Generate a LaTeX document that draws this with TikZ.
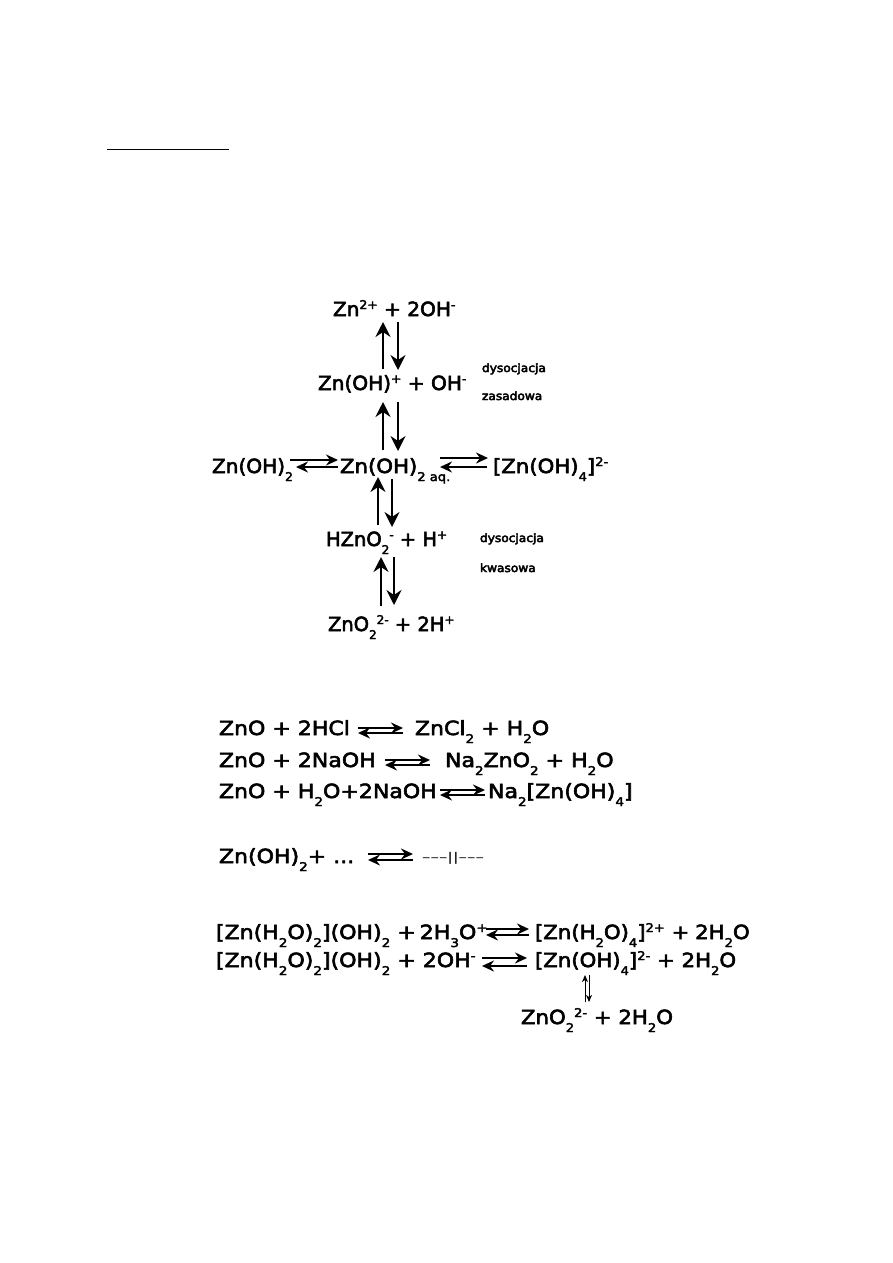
\documentclass[tikz,border=0pt]{standalone}
\usepackage{fontspec}
\setmainfont{DejaVu Sans}
\newfontfamily\chemplain{DejaVu Sans}[FakeBold=3]
\newfontfamily\chemsome{DejaVu Sans}[FakeBold=3,FakeStretch=1.03]
\newfontfamily\chemmore{DejaVu Sans}[FakeBold=3,FakeStretch=1.09]
\newfontfamily\chemwide{DejaVu Sans}[FakeBold=3,FakeStretch=1.13]
\newfontfamily\notefont{DejaVu Sans}[FakeBold=4,FakeStretch=1.06]
\newfontfamily\thinfont{DejaVu Sans}[FakeStretch=1.4]
\usetikzlibrary{arrows.meta}
\newcommand{\Dn}[1]{\raisebox{-8pt}{\fontsize{12}{12}\selectfont #1}}
\newcommand{\Up}[1]{\raisebox{7pt}{\fontsize{12}{12}\selectfont #1}}
\tikzset{
  x=1pt,y=-1pt,
  chem/.style={inner sep=0pt,outer sep=0pt,anchor=base west,font=\chemplain\fontsize{19.5}{24}\selectfont},
  chemB/.style={chem,font=\chemsome\fontsize{19.5}{24}\selectfont},
  chemC/.style={chem,font=\chemmore\fontsize{19.5}{24}\selectfont},
  chemD/.style={chem,font=\chemwide\fontsize{19.5}{24}\selectfont},
  remark/.style={inner sep=0pt,outer sep=0pt,anchor=base west,font=\notefont\fontsize{11.5}{13}\selectfont},
  eqbig/.style={line width=2.3pt,-{Stealth[length=15pt,width=15pt,inset=5pt]}},
  eqmid/.style={line width=2.2pt,-{Stealth[length=12pt,width=11pt,inset=4pt]}},
  eqtiny/.style={line width=1pt,-{Stealth[length=7pt,width=6pt,inset=2pt]}}
}
\begin{document}
\begin{tikzpicture}
\useasboundingbox (0,0) rectangle (893,1263);
\fill[white] (0,0) rectangle (893,1263);
\draw[line width=1pt] (107,149) -- (229,149);

% Dissociation scheme of zinc hydroxide
\node[chemB] (top) at (333,316) {Zn\Up{2+} + 2OH\Up{-}};
\node[chemB] (basic) at (318,390) {Zn(OH)\Up{+} + OH\Up{-}};
\node[chemB] (solid) at (212,473) {Zn(OH)\Dn{2}};
\node[chemC] (aq) at (340,473) {Zn(OH)\Dn{2 aq.}};
\node[chemC] (complex) at (493,473) {[Zn(OH)\Dn{4}]\Up{2-}};
\node[chem] (acid) at (326,546) {HZnO\Dn{2}\Up{-} + H\Up{+}};
\node[chem] (bottom) at (328,631) {ZnO\Dn{2}\Up{2-} + 2H\Up{+}};
\node[remark] (r1) at (482,372) {dysocjacja};
\node[remark] (r2) at (482,400) {zasadowa};
\node[remark] (r3) at (480,542) {dysocjacja};
\node[remark] (r4) at (480,572) {kwasowa};

\draw[eqbig] ([shift={(50,53)}]top.base west) -- ([shift={(50,6)}]top.base west);
\draw[eqbig] ([shift={(65,6)}]top.base west) -- ([shift={(65,54)}]top.base west);
\draw[eqbig] ([shift={(65,60)}]basic.base west) -- ([shift={(65,12)}]basic.base west);
\draw[eqbig] ([shift={(80,12)}]basic.base west) -- ([shift={(80,61)}]basic.base west);
\draw[eqbig] ([shift={(38,52)}]aq.base west) -- ([shift={(38,4)}]aq.base west);
\draw[eqbig] ([shift={(52,6)}]aq.base west) -- ([shift={(52,54)}]aq.base west);
\draw[eqbig] ([shift={(55,60)}]acid.base west) -- ([shift={(55,11)}]acid.base west);
\draw[eqbig] ([shift={(68,11)}]acid.base west) -- ([shift={(68,59)}]acid.base west);
\draw[eqmid] ([shift={(78,-13)}]solid.base west) -- ([shift={(126,-13)}]solid.base west);
\draw[eqmid] ([shift={(126,-6)}]solid.base west) -- ([shift={(84,-6)}]solid.base west);
\draw[eqmid] ([shift={(-53,-15)}]complex.base west) -- ([shift={(-5,-15)}]complex.base west);
\draw[eqmid] ([shift={(-6,-6)}]complex.base west) -- ([shift={(-53,-6)}]complex.base west);

% Amphoteric reactions of the oxide
\node[chemD] (l1) at (219,735) {ZnO + 2HCl};
\node[chemD] (l1r) at (415,735) {ZnCl\Dn{2} + H\Dn{2}O};
\node[chemD] (l2) at (219,767) {ZnO + 2NaOH};
\node[chemD] (l2r) at (445,767) {Na\Dn{2}ZnO\Dn{2} + H\Dn{2}O};
\node[chemD] (l3) at (219,798) {ZnO + H\Dn{2}O+2NaOH};
\node[chemD] (l3r) at (488,798) {Na\Dn{2}[Zn(OH)\Dn{4}]};
\node[chemD] (l4) at (219,863) {Zn(OH)\Dn{2}+ ...};
\node[inner sep=0pt,anchor=base west,font=\thinfont\fontsize{12}{12}\selectfont] (l4r) at (422,861) {–––||–––};

\draw[eqmid] ([shift={(139,-7)}]l1.base west) -- ([shift={(184,-7)}]l1.base west);
\draw[eqmid] ([shift={(184,-2)}]l1.base west) -- ([shift={(139,-2)}]l1.base west);
\draw[eqmid] ([shift={(166,-7)}]l2.base west) -- ([shift={(211,-7)}]l2.base west);
\draw[eqmid] ([shift={(211,-2)}]l2.base west) -- ([shift={(166,-2)}]l2.base west);
\draw[eqmid] ([shift={(221,-8)}]l3.base west) -- ([shift={(266,-8)}]l3.base west);
\draw[eqmid] ([shift={(266,-3)}]l3.base west) -- ([shift={(221,-3)}]l3.base west);
\draw[eqmid] ([shift={(149,-9)}]l4.base west) -- ([shift={(194,-9)}]l4.base west);
\draw[eqmid] ([shift={(194,-3)}]l4.base west) -- ([shift={(149,-3)}]l4.base west);

% Aqua complex reactions
\node[chemD] (a1) at (216,939) {[Zn(H\Dn{2}O)\Dn{2}](OH)\Dn{2} +\kern-3pt\ 2H\Dn{3}O\Up{+}};
\node[chemC] (a1r) at (535,939) {[Zn(H\Dn{2}O)\Dn{4}]\Up{2+} +\kern-1pt\ 2H\Dn{2}O};
\node[chemD] (a2) at (216,967) {[Zn(H\Dn{2}O)\Dn{2}](OH)\Dn{2} + 2OH\Up{-}};
\node[chemC] (a2r) at (535,967) {[Zn(OH)\Dn{4}]\Up{2-} + 2H\Dn{2}O};
\node[chemC] (a3) at (521,1024) {ZnO\Dn{2}\Up{2-} + 2H\Dn{2}O};

\draw[eqmid] ([shift={(270,-10)}]a1.base west) -- ([shift={(313,-10)}]a1.base west);
\draw[eqmid] ([shift={(313,-4)}]a1.base west) -- ([shift={(270,-4)}]a1.base west);
\draw[eqmid] ([shift={(266,-9)}]a2.base west) -- ([shift={(311,-9)}]a2.base west);
\draw[eqmid] ([shift={(311,-1)}]a2.base west) -- ([shift={(266,-1)}]a2.base west);
\draw[eqtiny] ([shift={(64,-22)}]a3.base west) -- ([shift={(64,-49)}]a3.base west);
\draw[eqtiny] ([shift={(68,-49)}]a3.base west) -- ([shift={(68,-22)}]a3.base west);
\end{tikzpicture}
\end{document}
